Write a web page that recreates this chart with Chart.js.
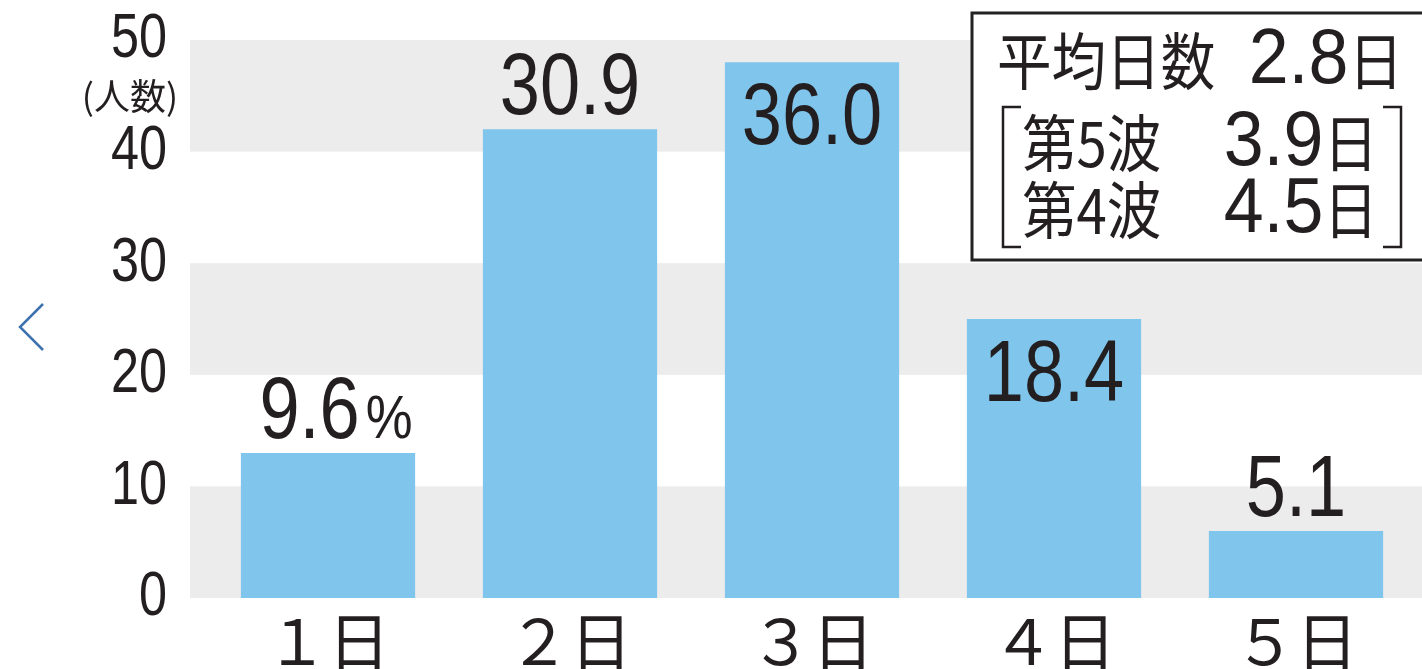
<!DOCTYPE html>
<html lang="ja">
<head>
<meta charset="utf-8">
<title>日数別の人数</title>
<script src="https://cdn.jsdelivr.net/npm/chart.js@4.4.1/dist/chart.umd.min.js"></script>
<style>
  html, body { margin: 0; padding: 0; background: #fff; }
  canvas { display: block; }
</style>
</head>
<body>
<canvas id="daysChart" width="1422" height="669"></canvas>
<script>
// data
const dayLabels = ['１日', '２日', '３日', '４日', '５日'];
const personCounts = [13, 42, 48, 25, 6];
const sharePercents = [9.6, 30.9, 36.0, 18.4, 5.1];
const yTicks = [0, 10, 20, 30, 40, 50];
const bandStarts = [0, 20, 40];
const summaryNames = ['平均日数', '第5波', '第4波'];
const summaryValues = ['2.8', '3.9', '4.5'];

const INK = '#231f20';
const SANS = "'Liberation Sans', sans-serif";
const CJK = "'Noto Sans CJK JP', sans-serif";

// draw a run of text pieces, each with its own font, squeeze and leading gap
function runWidth(ctx, parts) {
  return parts.reduce((w, p) => {
    ctx.font = p.font;
    return w + (p.gap || 0) + ctx.measureText(p.text).width * (p.sx || 1);
  }, 0);
}

function drawRun(ctx, parts, x, y) {
  let cx = x;
  parts.forEach(p => {
    cx += p.gap || 0;
    ctx.save();
    ctx.font = p.font;
    ctx.translate(cx, y);
    ctx.scale(p.sx || 1, 1);
    ctx.fillText(p.text, 0, 0);
    ctx.restore();
    ctx.font = p.font;
    cx += ctx.measureText(p.text).width * (p.sx || 1);
  });
}

// grey stripes behind the bars
const bandPlugin = {
  id: 'bands',
  beforeDraw(chart) {
    const { ctx, chartArea, scales: { y } } = chart;
    ctx.save();
    ctx.fillStyle = '#fff';
    ctx.fillRect(0, 0, chart.width, chart.height);
    ctx.fillStyle = '#ececec';
    bandStarts.forEach(v => {
      const top = y.getPixelForValue(v + 10);
      const bottom = y.getPixelForValue(v);
      ctx.fillRect(chartArea.left - 17, top, chart.width, bottom - top);
    });
    ctx.restore();
  }
};

// condensed y tick labels, placed by the y scale
const yLabelPlugin = {
  id: 'yLabels',
  afterDraw(chart) {
    const { ctx, scales: { y } } = chart;
    ctx.save();
    ctx.fillStyle = INK;
    ctx.textBaseline = 'middle';
    y.ticks.forEach(t => {
      const parts = [{ text: String(t.value), font: `63px ${SANS}`, sx: 0.8 }];
      drawRun(ctx, parts, 167 - runWidth(ctx, parts), y.getPixelForValue(t.value));
    });
    ctx.font = `36px ${CJK}`;
    ctx.textAlign = 'center';
    ctx.fillText('(人数)', 130, y.getPixelForValue(50) + 56);
    ctx.restore();
  }
};

// percentage above or inside each bar
const labelPlugin = {
  id: 'shareLabels',
  afterDatasetsDraw(chart) {
    const { ctx } = chart;
    const bars = chart.getDatasetMeta(0).data;
    const inside = [2, 3];
    ctx.save();
    ctx.fillStyle = INK;
    ctx.textBaseline = 'alphabetic';
    bars.forEach((bar, i) => {
      const parts = [{ text: sharePercents[i].toFixed(1), font: `88px ${SANS}`, sx: 0.82 }];
      if (i === 0) parts.push({ text: '%', font: `62px ${SANS}`, sx: 0.85, gap: 6 });
      const w = runWidth(ctx, parts);
      const y = inside.includes(i) ? bar.y + 82 : bar.y - 15;
      drawRun(ctx, parts, bar.x - w / 2 + (i === 0 ? 8 : 0), y);
    });
    ctx.restore();
  }
};

// summary box and the small arrow on the left
const notePlugin = {
  id: 'notes',
  afterDraw(chart) {
    const { ctx } = chart;
    ctx.save();
    ctx.fillStyle = '#fff';
    ctx.fillRect(972, 13, 470, 247);
    ctx.strokeStyle = '#222';
    ctx.lineWidth = 3;
    ctx.strokeRect(972, 13, 470, 247);

    ctx.fillStyle = INK;
    ctx.textAlign = 'left';
    ctx.textBaseline = 'middle';
    const rows = [
      { y: 61, left: 997, right: 1403 },
      { y: 143, left: 1022, right: 1378 },
      { y: 210, left: 1022, right: 1378 }
    ];
    rows.forEach((r, i) => {
      drawRun(ctx, [{ text: summaryNames[i], font: `62px ${CJK}`, sx: 0.88 }], r.left, r.y);
      const val = [
        { text: summaryValues[i], font: `78px ${SANS}`, sx: 0.92 },
        { text: '日', font: `62px ${CJK}`, sx: 0.88 }
      ];
      drawRun(ctx, val, r.right - runWidth(ctx, val), r.y);
    });

    // brackets around the wave rows
    ctx.lineWidth = 2.5;
    ctx.strokeStyle = INK;
    ctx.beginPath();
    ctx.moveTo(1021, 107); ctx.lineTo(1003, 107); ctx.lineTo(1003, 247); ctx.lineTo(1021, 247);
    ctx.moveTo(1383, 107); ctx.lineTo(1401, 107); ctx.lineTo(1401, 247); ctx.lineTo(1383, 247);
    ctx.stroke();

    // arrow
    ctx.strokeStyle = '#3d72ad';
    ctx.lineWidth = 2.5;
    ctx.beginPath();
    ctx.moveTo(43, 304); ctx.lineTo(20, 327); ctx.lineTo(43, 350);
    ctx.stroke();
    ctx.restore();
  }
};

new Chart(document.getElementById('daysChart'), {
  type: 'bar',
  data: {
    labels: dayLabels,
    datasets: [{
      data: personCounts,
      backgroundColor: '#80c5ec',
      borderWidth: 0,
      barPercentage: 0.72,
      categoryPercentage: 1
    }]
  },
  options: {
    responsive: false,
    animation: false,
    layout: { padding: { top: 40, right: 5, bottom: 0, left: 0 } },
    plugins: {
      legend: { display: false },
      tooltip: { enabled: false }
    },
    scales: {
      x: {
        grid: { display: false, drawTicks: false },
        border: { display: false },
        ticks: {
          color: INK,
          padding: 12,
          font: { family: CJK, size: 62, lineHeight: 1 }
        },
        afterFit(scale) { scale.height = 71; }
      },
      y: {
        min: 0,
        max: 50,
        afterBuildTicks(scale) { scale.ticks = yTicks.map(v => ({ value: v })); },
        grid: { display: false, drawTicks: false },
        border: { display: false },
        ticks: { display: false },
        afterFit(scale) { scale.width = 207; }
      }
    }
  },
  plugins: [bandPlugin, yLabelPlugin, labelPlugin, notePlugin]
});
</script>
</body>
</html>
